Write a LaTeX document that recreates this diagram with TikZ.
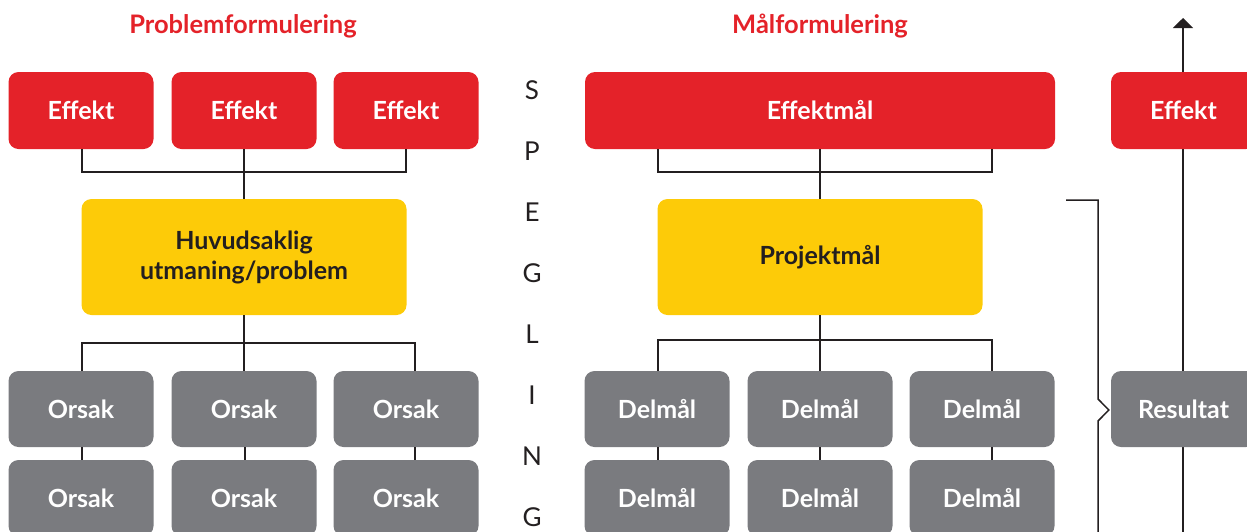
\documentclass[tikz,border=0pt]{standalone}
\usepackage{fontspec}
\setmainfont{Lato}
\usetikzlibrary{arrows.meta,calc}
\definecolor{cred}{HTML}{E42229}
\definecolor{cyel}{HTML}{FDCB08}
\definecolor{cgray}{HTML}{7A7B7F}
\definecolor{cdark}{HTML}{231F20}
\begin{document}
\begin{tikzpicture}[x=1pt,y=-1pt,
  box/.style={rounded corners=10pt,inner sep=0pt,text=white,font=\fontsize{25}{30}\selectfont\bfseries,align=center},
  redbox/.style={box,fill=cred,minimum width=145pt,minimum height=77pt},
  graybox/.style={box,fill=cgray,minimum width=145pt,minimum height=76pt},
  yelbox/.style={box,fill=cyel,text=cdark,minimum width=325pt,minimum height=116pt},
  conn/.style={draw=cdark,line width=1.5pt},
  title/.style={text=cred,font=\fontsize{25.5}{30}\selectfont\bfseries},
  letter/.style={text=cdark,font=\fontsize{26}{30}\selectfont}]
\useasboundingbox (0,0) rectangle (1247,531);
\clip (0,0) rectangle (1247,531);
% titles
\node[title] (t1) at (243,26) {Problemformulering};
\node[title] (t2) at (820,26) {Målformulering};
% SPEGLING
\foreach \l [count=\i] in {S,P,E,G,L,I,N,G}
  \node[letter] (s\i) at (532,{90+61*(\i-1)}) {\l};
% arrow on right (behind boxes)
\coordinate (abot) at (1183,540);
\coordinate (atop) at (1183,18);
\draw[conn,-{Triangle[width=20pt,length=10pt]}] (abot) -- (atop);
% left side
\node[redbox] (e1) at (81,110.5) {Effekt};
\node[redbox] (e2) at (244,110.5) {Effekt};
\node[redbox] (e3) at (406,110.5) {Effekt};
\node[yelbox] (y1) at (244,257) {Huvudsaklig\\utmaning/problem};
\foreach \c/\x in {1/81,2/244,3/406}{
  \node[graybox] (o\c) at (\x,409) {Orsak};
  \node[graybox] (p\c) at (\x,498) {Orsak};
}
% right side
\node[redbox,minimum width=470pt] (em) at (820,110.5) {Effektmål};
\node[yelbox] (pm) at (820,257) {Projektmål};
\foreach \c/\x in {1/657,2/820,3/982}{
  \node[graybox] (d\c) at (\x,409) {Delmål};
  \node[graybox] (f\c) at (\x,498) {Delmål};
}
\node[redbox] (er) at (1183.5,110.5) {Effekt};
\node[graybox] (res) at (1183.5,409) {Resultat};
% left connectors
\draw[conn] ($(e1.south)+(1,0)$) -- ++(0,23) -| ($(e3.south)$);
\draw[conn] (e2.south) -- (y1.north);
\draw[conn] (y1.south) -- (o2.north);
\draw[conn] ($(o1.north)+(1,0)$) -- ++(0,-28) -| ($(o3.north)+(9,0)$);
\foreach \c/\dx in {1/1,2/1,3/9}
  \draw[conn] ($(o\c.south)+(\dx,0)$) -- ($(p\c.north)+(\dx,0)$);
% right connectors
\draw[conn] ($(em.south)+(-162,0)$) -- ++(0,23) -| ($(em.south)+(172,0)$);
\draw[conn] (em.south) -- (pm.north);
\draw[conn] (pm.south) -- (d2.north);
\draw[conn] ($(d1.north)+(1,0)$) -- ++(0,-31) -| ($(d3.north)+(10,0)$);
\foreach \c/\dx in {1/1,2/0,3/10}
  \draw[conn] ($(d\c.south)+(\dx,0)$) -- ($(f\c.north)+(\dx,0)$);
% bracket
\coordinate (b0) at (1066,200);
\coordinate (b1) at (1098,540);
\draw[conn,line join=miter] (b0) -- (1098,200) -- (1098,399) -- ($(res.west)+(-2,1)$) -- (1098,421) -- (b1);
\end{tikzpicture}
\end{document}
